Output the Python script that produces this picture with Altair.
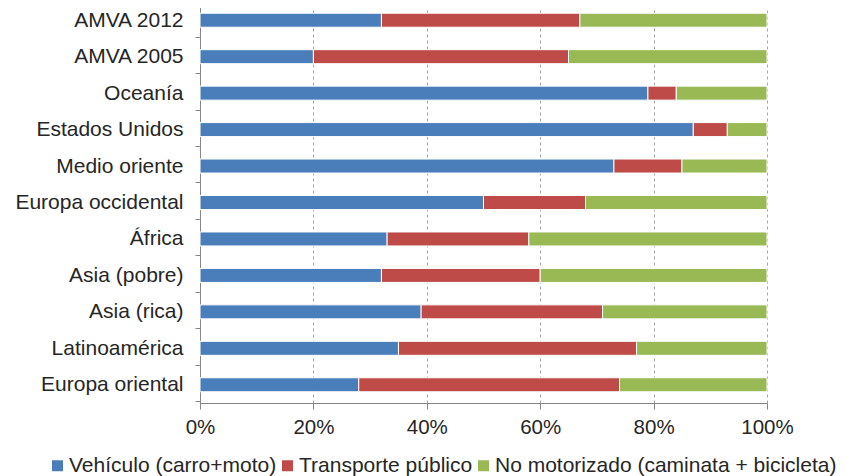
import altair as alt
import pandas as pd

regions = ["AMVA 2012", "AMVA 2005", "Oceanía", "Estados Unidos", "Medio oriente",
           "Europa occidental", "África", "Asia (pobre)", "Asia (rica)",
           "Latinoamérica", "Europa oriental"]
vehiculo = [32, 20, 79, 87, 73, 50, 33, 32, 39, 35, 28]
transporte = [35, 45, 5, 6, 12, 18, 25, 28, 32, 42, 46]
no_motorizado = [33, 35, 16, 7, 15, 32, 42, 40, 29, 23, 26]

series = ["Vehículo (carro+moto)", "Transporte público", "No motorizado (caminata + bicicleta)"]
colors = ["#4A7EBB", "#BE4B48", "#98B954"]
x_ticks = [0, 20, 40, 60, 80, 100]

rows = []
for i, r in enumerate(regions):
    for k, (s, vals) in enumerate(zip(series, [vehiculo, transporte, no_motorizado])):
        rows.append({"region": r, "serie": s, "valor": vals[i], "orden": k})
df = pd.DataFrame(rows)

FONT = "Liberation Sans"

chart = alt.Chart(df).mark_bar(size=14, stroke="white", strokeWidth=1).encode(
    y=alt.Y("region:N", sort=regions, title=None,
            axis=alt.Axis(labelFontSize=21, labelColor="#262626", labelFont=FONT,
                          labelLimit=300, tickBand="extent", tickSize=5,
                          tickColor="#868686", domainColor="#868686",
                          labelPadding=12, grid=False)),
    x=alt.X("valor:Q", stack="zero", title=None,
            scale=alt.Scale(domain=[0, 100], nice=False),
            axis=alt.Axis(values=x_ticks, labelExpr="datum.value + '%'",
                          labelFontSize=20.5, labelColor="#262626", labelFont=FONT,
                          labelFlush=False,
                          tickSize=6, tickColor="#868686", domainColor="#868686",
                          labelPadding=8, grid=True, gridColor="#A6A6A6",
                          gridDash=[3, 3], gridWidth=1)),
    color=alt.Color("serie:N", sort=series,
                    scale=alt.Scale(domain=series, range=colors),
                    legend=alt.Legend(title=None, orient="none", legendX=-153, legendY=453,
                                      direction="horizontal", symbolType="square",
                                      symbolSize=121, symbolStrokeWidth=0,
                                      labelFontSize=21, labelFont=FONT,
                                      labelColor="#262626", labelOffset=1,
                                      columnPadding=0, labelLimit=500)),
    order=alt.Order("orden:Q"),
).properties(
    width=567, height=401,
    autosize=alt.AutoSizeParams(type="none"),
    padding={"left": 192, "top": -6, "right": 70, "bottom": 73},
).configure_view(stroke=None)

chart.save("out.html", embed_options={"renderer": "svg", "actions": False})
